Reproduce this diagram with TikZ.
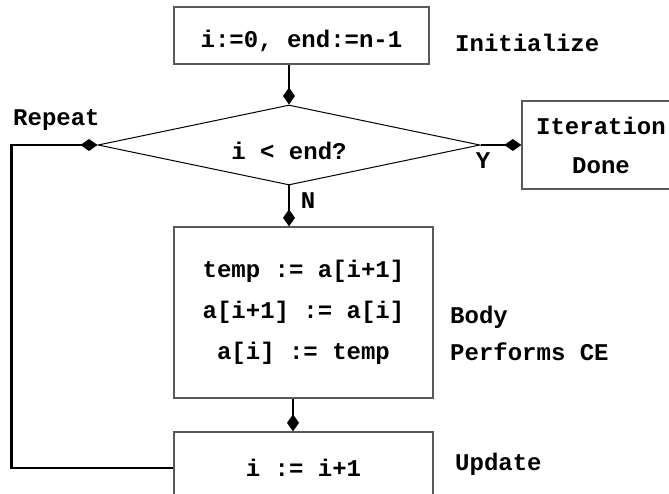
\documentclass[tikz,border=0pt]{standalone}
\usepackage{fontspec}
\setmainfont{Liberation Mono}
\usetikzlibrary{shapes.geometric,arrows.meta}
\newcommand{\lowertext}[2]{\raisebox{-#1}[\height][\depth]{#2}}
\begin{document}
\begin{tikzpicture}[x=1pt,y=-1pt,
  every node/.style={font=\fontsize{24}{39}\selectfont\bfseries},
  box/.style={draw=black!65, line width=1.3pt, rectangle, inner sep=0pt},
  conn/.style={line width=2.8pt, -{Diamond[length=17pt,width=12pt]}},
  lbl/.style={inner sep=0pt, anchor=west}
]
\useasboundingbox (0,0) rectangle (669,494);
\clip (0,0) rectangle (669,494);
\fill[white] (0,0) rectangle (669,494);

\node[box, minimum width=255pt, minimum height=57pt] (init) at (301.5,35.5) {\lowertext{5pt}{i:=0, end:=n-1}};
\node[draw, line width=1pt, diamond, shape aspect=4.8, minimum width=382pt, minimum height=80pt, inner sep=0pt] (dec) at (289,145) {\lowertext{6pt}{i < end?}};
\node[box, minimum width=158pt, minimum height=88pt, align=center] (done) at (601,145) {Iteration\\Done};
\node[box, minimum width=259pt, minimum height=171pt, align=center, font=\fontsize{24}{41}\selectfont\bfseries] (body) at (303.5,312.5) {temp := a[i+1]\\a[i+1] := a[i]\\a[i] := temp};
\node[box, minimum width=259pt, minimum height=72pt] (upd) at (303.5,468) {i := i+1};

\node[lbl] (linit) at (455,43) {Initialize};
\node[lbl] (lrep) at (13,120) {Repeat};
\node (ly) at (483,161) {Y};
\node (ln) at (308,201) {N};
\node[lbl, align=left, font=\fontsize{24}{37}\selectfont\bfseries] (lbody) at (450,333) {Body\\Performs CE};
\node[lbl] (lupd) at (455,464) {Update};

\draw[conn] (init.south -| dec.north) -- (dec.north);
\draw[conn] (dec.south) -- (dec.south |- body.north);
\draw[conn] ([xshift=-10.5pt]body.south) -- ([xshift=-10.5pt]upd.north);
\draw[conn] (dec.east) -- (dec.east -| done.west);
\draw[conn] (upd.west) -- ++(-162,0) |- (dec.west);
\end{tikzpicture}
\end{document}
